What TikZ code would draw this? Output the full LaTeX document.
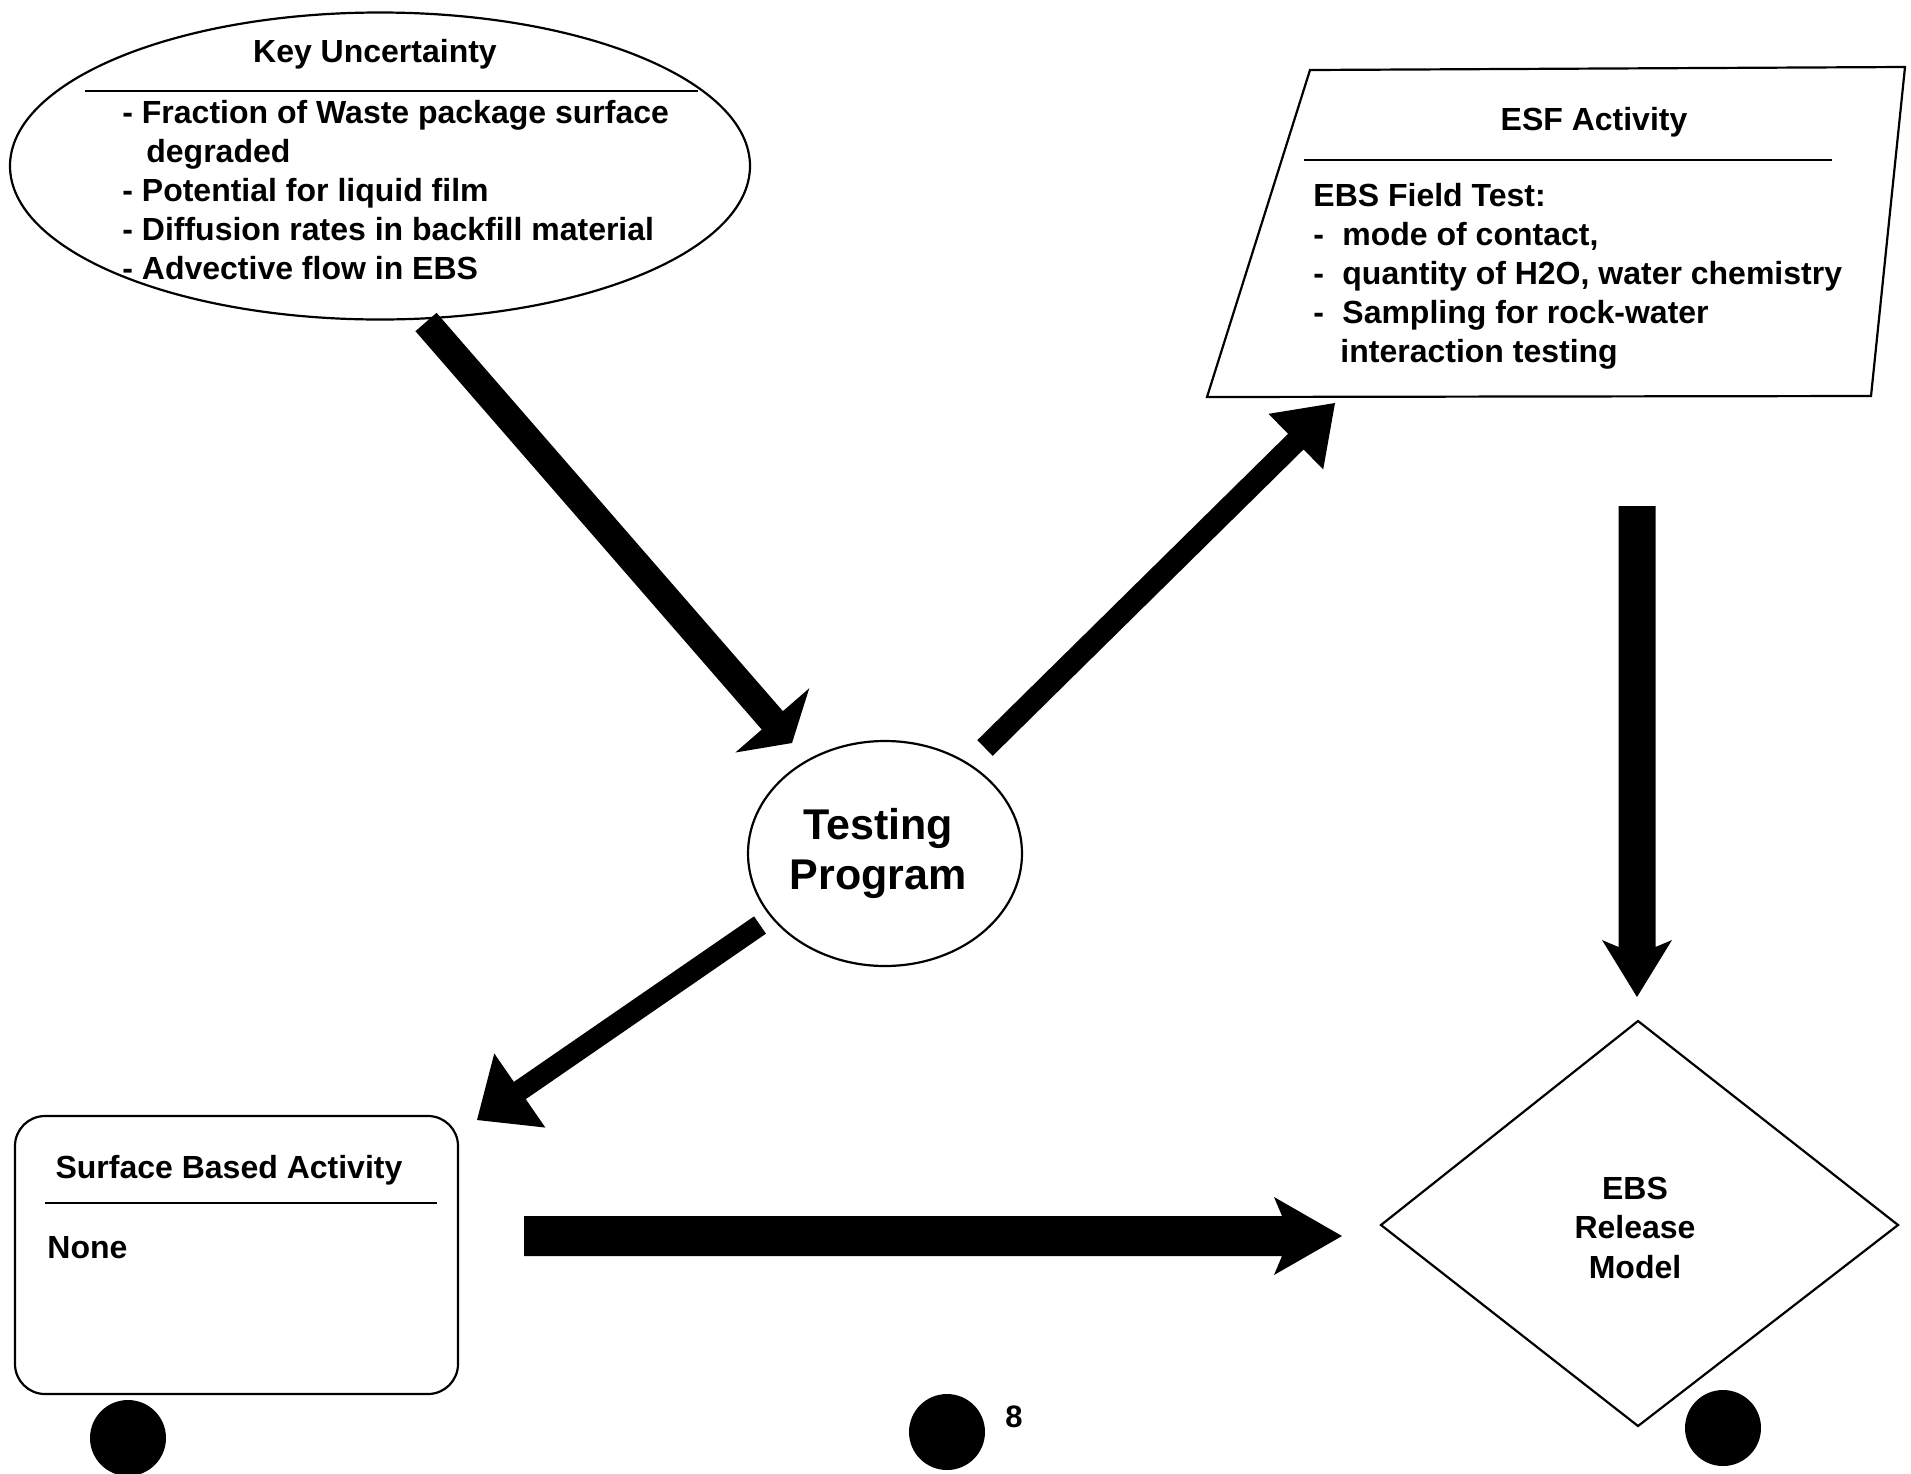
\documentclass[tikz,border=0pt]{standalone}
\usepackage{fontspec}
\setmainfont{Liberation Sans}
\usetikzlibrary{calc,shapes.geometric}

\tikzset{
  outline/.style={draw=black, line width=1.1pt},
  txt/.style={inner sep=0pt, font=\bfseries\fontsize{16pt}{19.5pt}\selectfont},
  bigtxt/.style={inner sep=0pt, align=center, font=\bfseries\fontsize{21.5pt}{25pt}\selectfont},
  dot/.style={circle, fill=black, inner sep=0pt, minimum size=38pt},
}

% Block arrow from #1 (tail) to #2 (tip); sizes in px:
% #3 shaft width, #4 head width, #5 head length, #6 head inset
\newcommand\blockarrow[6]{%
  \coordinate (ba-back) at ($(#2)!{#5*0.5pt}!(#1)$);
  \coordinate (ba-join) at ($(#2)!{(#5-#6)*0.5pt}!(#1)$);
  \fill[black] ($(#1)!{#3*0.25pt}!90:(#2)$)
     -- ($(ba-join)!{#3*0.25pt}!90:(#2)$)
     -- ($(ba-back)!{#4*0.25pt}!90:(#2)$)
     -- (#2)
     -- ($(ba-back)!{#4*0.25pt}!-90:(#2)$)
     -- ($(ba-join)!{#3*0.25pt}!-90:(#2)$)
     -- ($(#1)!{#3*0.25pt}!-90:(#2)$) -- cycle;}

\begin{document}
\begin{tikzpicture}[x=0.5pt, y=-0.5pt]
\fill[white] (0,0) rectangle (1911,1473);
\useasboundingbox (0,0) rectangle (1911,1473);

% Key uncertainty ellipse
\node[outline, ellipse, minimum width=370pt, minimum height=153.5pt, inner sep=0pt] (ku) at (380,166) {};
\node[txt, anchor=base] (kutitle) at (375,62) {Key Uncertainty};
\draw[line width=1.1pt] (85,91) -- (698,91);
\node[txt, anchor=base west] (ku1) at (122,123) {- Fraction of Waste package surface};
\node[txt, anchor=base west] (ku1b) at (146,162) {degraded};
\node[txt, anchor=base west] (ku2) at (122,201) {- Potential for liquid film};
\node[txt, anchor=base west] (ku3) at (122,240) {- Diffusion rates in backfill material};
\node[txt, anchor=base west] (ku4) at (122,279) {- Advective flow in EBS};

% ESF activity box
\coordinate (esf-tl) at (1310,70);
\coordinate (esf-tr) at (1905,67);
\coordinate (esf-br) at (1871,396);
\coordinate (esf-bl) at (1207,397);
\draw[outline] (esf-tl) -- (esf-tr) -- (esf-br) -- (esf-bl) -- cycle;
\node[txt, anchor=base] (esftitle) at (1594,130) {ESF Activity};
\draw[line width=1.1pt] (1304,160) -- (1832,160);
\node[txt, anchor=base west] (esf0) at (1313,206) {EBS Field Test:};
\node[txt, anchor=base west] (esf1) at (1313,245) {\makebox[14.5pt][l]{-}mode of contact,};
\node[txt, anchor=base west] (esf2) at (1313,284) {\makebox[14.5pt][l]{-}quantity of H2O, water chemistry};
\node[txt, anchor=base west] (esf3) at (1313,323) {\makebox[14.5pt][l]{-}Sampling for rock-water};
\node[txt, anchor=base west] (esf3b) at (1340,362) {interaction testing};

% Testing program
\node[outline, ellipse, minimum width=137pt, minimum height=112.5pt, inner sep=0pt] (tp) at (885,853.5) {};
\node[bigtxt] (tptext) at (878,853) {Testing\\Program};

% Surface based activity
\node[outline, rectangle, rounded corners=15pt, minimum width=221.5pt, minimum height=139pt, inner sep=0pt] (sba) at (236.5,1255) {};
\node[txt, anchor=base] (sbatitle) at (229,1178) {Surface Based Activity};
\draw[line width=1.1pt] (45,1203) -- (437,1203);
\node[txt, anchor=base west] (sbanone) at (47,1258) {None};

% EBS release model
\coordinate (ebs-t) at (1638,1021);
\coordinate (ebs-r) at (1898,1225);
\coordinate (ebs-b) at (1638,1426);
\coordinate (ebs-l) at (1381,1225);
\draw[outline] (ebs-t) -- (ebs-r) -- (ebs-b) -- (ebs-l) -- cycle;
\node[txt, anchor=base] (ebs1) at (1635,1199) {EBS};
\node[txt, anchor=base] (ebs2) at (1635,1238) {Release};
\node[txt, anchor=base] (ebs3) at (1635,1278) {Model};

% Arrow end points
\coordinate (a1-tail) at (426,322);
\coordinate (a1-tip) at (792,743);
\coordinate (a2-tail) at (985,748);
\coordinate (a2-tip) at (1335,403);
\coordinate (a3-tail) at (1637,506);
\coordinate (a3-tip) at (1637,997);
\coordinate (a4-tail) at (760,925);
\coordinate (a4-tip) at (477,1120);
\coordinate (a5-tail) at (524,1236);
\coordinate (a5-tip) at (1342,1236);

\blockarrow{a1-tail}{a1-tip}{28}{98}{30}{0}
\blockarrow{a2-tail}{a2-tip}{22}{78}{55}{0}
\blockarrow{a3-tail}{a3-tip}{37}{70}{57}{7}
\blockarrow{a4-tail}{a4-tip}{21}{90}{52}{0}
\blockarrow{a5-tail}{a5-tip}{40}{78}{68}{8}

% Page markers
\node[dot] (d1) at (128,1438) {};
\node[dot] (d2) at (947,1432) {};
\node[dot] (d3) at (1723,1428) {};
\node[inner sep=0pt, anchor=base west, font=\bfseries\fontsize{15.5pt}{18pt}\selectfont] (pagenum) at (1005,1427) {8};
\end{tikzpicture}
\end{document}
